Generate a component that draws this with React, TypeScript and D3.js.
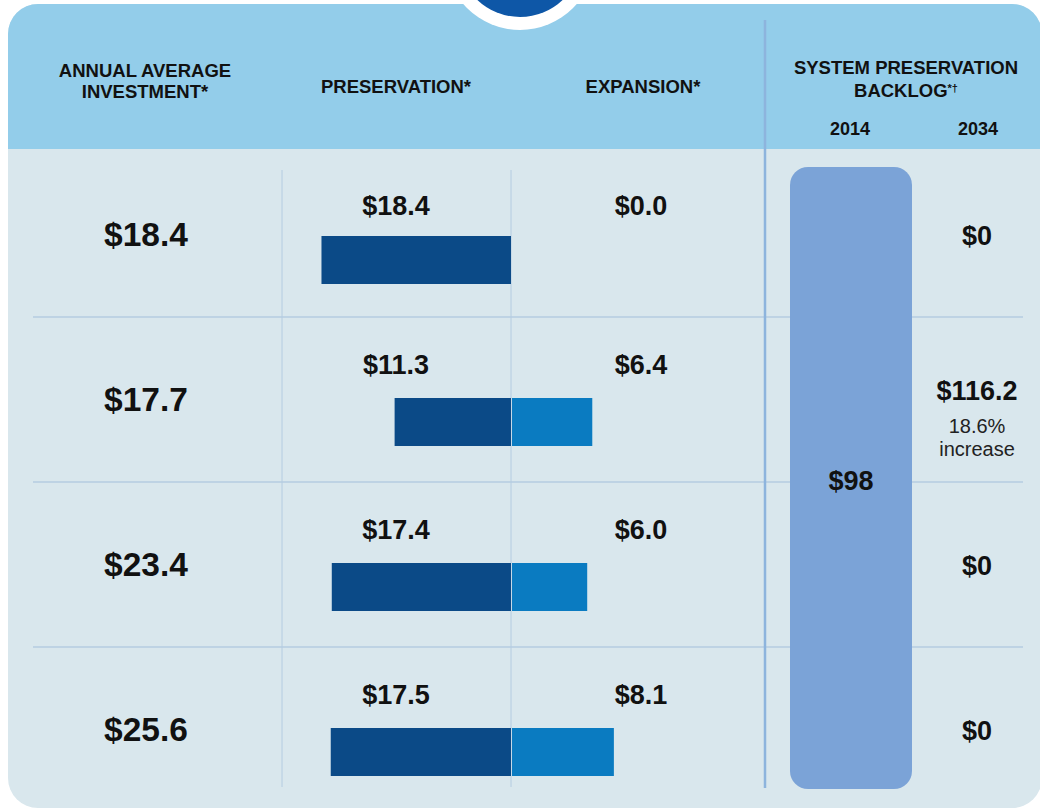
import React, { useEffect, useRef } from 'react';
import * as d3 from 'd3';

const rows = ['row1', 'row2', 'row3', 'row4'];
const annualAverage = [18.4, 17.7, 23.4, 25.6];
const preservation = [18.4, 11.3, 17.4, 17.5];
const expansion = [0.0, 6.4, 6.0, 8.1];
const backlog2014 = 98;
const backlog2034 = [0, 116.2, 0, 0];
const backlogIncrease = [null, 18.6, null, null];
const years = ['2014', '2034'];

const Colors = {
  header: '#93cdea',
  body: '#d9e7ed',
  preservation: '#0b4a87',
  expansion: '#0a7bc1',
  backlog: '#7ba3d7',
  circle: '#0e57a7',
  divider: '#8db4dd',
  grid: '#b4cce1',
  text: '#111111',
};

const FONT = "'Liberation Sans', Arial, Helvetica, sans-serif";

function App() {
  const ref = useRef<SVGSVGElement>(null);

  useEffect(() => {
    const svg = d3.select(ref.current);
    svg.selectAll('*').remove();
    const width = 1040;
    const height = 810;

    const y = d3.scaleBand().domain(rows).range([152, 812]).paddingInner(0);
    const xPres = d3.scaleLinear().domain([0, 20]).range([511, 305]);
    const xExp = d3.scaleLinear().domain([0, 10]).range([511, 638]);
    const yBacklog = d3.scaleLinear().domain([0, backlog2014]).range([789, 167]);
    const money = (v: number) => '$' + d3.format('.1f')(v);
    const moneyShort = (v: number) => '$' + (v === 0 ? '0' : d3.format('.1f')(v));
    // first row sits a little lower under the header
    const rowShift = (i: number) => (i === 0 ? 3 : 0);

    svg.attr('width', width).attr('height', height);
    svg.append('rect').attr('width', width).attr('height', height).attr('fill', '#ffffff');

    const defs = svg.append('defs');
    defs
      .append('clipPath')
      .attr('id', 'panel-clip')
      .append('rect')
      .attr('x', 8)
      .attr('y', 4)
      .attr('width', 1034)
      .attr('height', 804)
      .attr('rx', 30);

    const panel = svg.append('g').attr('clip-path', 'url(#panel-clip)');
    panel.append('rect').attr('x', 8).attr('y', 4).attr('width', 1034).attr('height', 804).attr('fill', Colors.body);
    panel.append('rect').attr('x', 8).attr('y', 4).attr('width', 1034).attr('height', 145).attr('fill', Colors.header);

    // badge at top
    svg.append('circle').attr('cx', 520).attr('cy', -45).attr('r', 75).attr('fill', '#ffffff');
    svg.append('circle').attr('cx', 520).attr('cy', -45).attr('r', 62).attr('fill', Colors.circle);

    // header text
    const head = svg
      .append('g')
      .attr('font-family', FONT)
      .attr('font-weight', 'bold')
      .attr('font-size', 18.5)
      .attr('fill', Colors.text)
      .attr('text-anchor', 'middle');
    head.append('text').attr('x', 145).attr('y', 77).text('ANNUAL AVERAGE');
    head.append('text').attr('x', 145).attr('y', 98).text('INVESTMENT*');
    head.append('text').attr('x', 396).attr('y', 93).text('PRESERVATION*');
    head.append('text').attr('x', 643).attr('y', 93).text('EXPANSION*');
    head.append('text').attr('x', 906).attr('y', 74).text('SYSTEM PRESERVATION');
    const bl = head.append('text').attr('x', 906).attr('y', 97);
    bl.append('tspan').text('BACKLOG');
    bl.append('tspan').attr('font-size', 11).attr('dy', -5).text('*†');
    head
      .selectAll('text.year')
      .data(years)
      .join('text')
      .attr('class', 'year')
      .attr('x', (d, i) => (i === 0 ? 850 : 978))
      .attr('y', 135)
      .attr('font-size', 18)
      .text(d => d);

    // grid lines
    const grid = svg.append('g').attr('stroke', Colors.grid).attr('fill', 'none');
    rows.slice(1).forEach(r => {
      grid
        .append('line')
        .attr('x1', 33)
        .attr('x2', 1023)
        .attr('y1', y(r))
        .attr('y2', y(r))
        .attr('stroke-width', 1.5);
    });
    [282, xPres(0)].forEach(x => {
      grid.append('line').attr('x1', x).attr('x2', x).attr('y1', 170).attr('y2', 787).attr('stroke-width', 1);
    });
    svg
      .append('line')
      .attr('x1', 765)
      .attr('x2', 765)
      .attr('y1', 20)
      .attr('y2', 788)
      .attr('stroke', Colors.divider)
      .attr('stroke-width', 2.5);

    // bars
    const barH = 48;
    svg
      .append('g')
      .selectAll('rect')
      .data(rows)
      .join('rect')
      .attr('x', (d, i) => xPres(preservation[i]))
      .attr('y', (d, i) => y(d) + 81 + rowShift(i))
      .attr('width', (d, i) => xPres(0) - xPres(preservation[i]))
      .attr('height', barH)
      .attr('fill', Colors.preservation);
    svg
      .append('g')
      .selectAll('rect')
      .data(rows)
      .join('rect')
      .attr('x', xExp(0) + 1)
      .attr('y', (d, i) => y(d) + 81 + rowShift(i))
      .attr('width', (d, i) => Math.max(0, xExp(expansion[i]) - xExp(0) - 1))
      .attr('height', barH)
      .attr('fill', Colors.expansion);

    // backlog bar
    svg
      .append('rect')
      .attr('x', 790)
      .attr('y', yBacklog(backlog2014))
      .attr('width', 122)
      .attr('height', yBacklog(0) - yBacklog(backlog2014))
      .attr('rx', 18)
      .attr('fill', Colors.backlog);

    const txt = svg
      .append('g')
      .attr('font-family', FONT)
      .attr('font-weight', 'bold')
      .attr('fill', Colors.text)
      .attr('text-anchor', 'middle');

    txt
      .selectAll('text.avg')
      .data(rows)
      .join('text')
      .attr('class', 'avg')
      .attr('x', 146)
      .attr('y', d => y(d) + 94)
      .attr('font-size', 33.5)
      .text((d, i) => money(annualAverage[i]));

    txt
      .selectAll('text.pres')
      .data(rows)
      .join('text')
      .attr('class', 'pres')
      .attr('x', 396)
      .attr('y', (d, i) => y(d) + 57 + rowShift(i) * 2)
      .attr('font-size', 27)
      .text((d, i) => money(preservation[i]));

    txt
      .selectAll('text.exp')
      .data(rows)
      .join('text')
      .attr('class', 'exp')
      .attr('x', 641)
      .attr('y', (d, i) => y(d) + 57 + rowShift(i) * 2)
      .attr('font-size', 27)
      .text((d, i) => money(expansion[i]));

    txt
      .append('text')
      .attr('x', 851)
      .attr('y', 490)
      .attr('font-size', 27)
      .text('$' + backlog2014);

    txt
      .selectAll('text.b34')
      .data(rows)
      .join('text')
      .attr('class', 'b34')
      .attr('x', 977)
      .attr('y', (d, i) => y(d) + (backlogIncrease[i] != null ? 83 : 93))
      .attr('font-size', 27)
      .text((d, i) => moneyShort(backlog2034[i]));

    rows.forEach((r, i) => {
      const inc = backlogIncrease[i];
      if (inc == null) return;
      const g = svg
        .append('g')
        .attr('font-family', FONT)
        .attr('font-size', 20)
        .attr('fill', '#222')
        .attr('text-anchor', 'middle');
      g.append('text').attr('x', 977).attr('y', y(r) + 116).text(d3.format('.1f')(inc) + '%');
      g.append('text').attr('x', 977).attr('y', y(r) + 139).text('increase');
    });
  });

  return (
    <div>
      <svg ref={ref} width="1040" height="810" style={{ position: 'absolute', left: 0, top: 0 }} />
    </div>
  );
}

export default App;
